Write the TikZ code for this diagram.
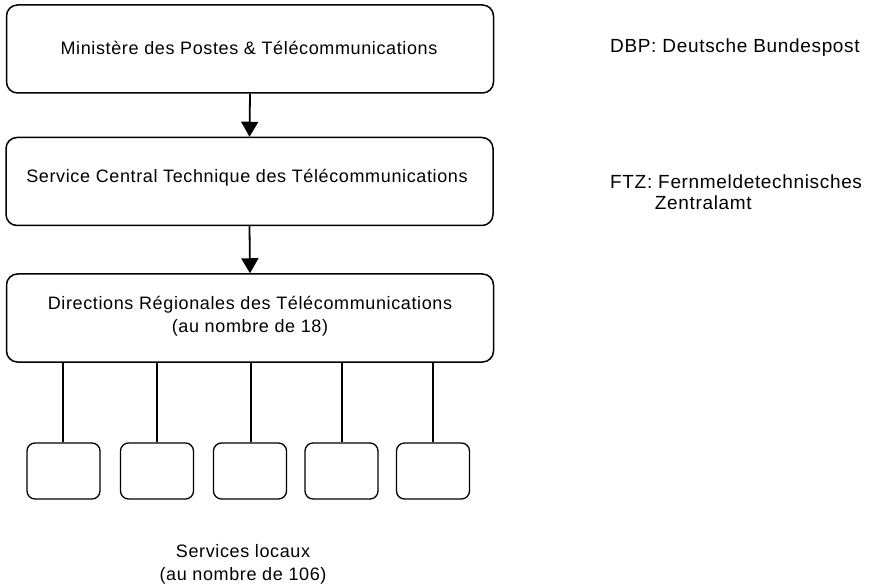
\documentclass[tikz,border=0pt]{standalone}
\usepackage{fontspec}
\setmainfont{Liberation Sans}[LetterSpace=3.5]
\usetikzlibrary{arrows.meta}
\begin{document}
\begin{tikzpicture}[x=1pt,y=-1pt,
  bigbox/.style={draw,line width=1.5pt,rounded corners=11pt,minimum width=487pt,minimum height=88pt,inner sep=0pt},
  smallbox/.style={draw,line width=1.3pt,rounded corners=8pt,minimum width=73pt,minimum height=56pt,inner sep=0pt},
  txt/.style={font=\fontsize{18}{23}\selectfont,inner sep=0pt},
  sidetxt/.style={font=\fontsize{19}{21}\selectfont,inner sep=0pt},
  conn/.style={line width=1.5pt},
  arr/.style={line width=1.8pt,-{Triangle[width=17pt,length=15pt]}}]
\useasboundingbox (0,0) rectangle (873,585);
\node[bigbox] (min) at (250,49) {};
\node[txt] (mint) at (249,48) {Ministère des Postes \& Télécommunications};
\node[bigbox] (sct) at (249.5,181.5) {};
\node[txt] (sctt) at (247,178) {Service Central Technique des Télécommunications};
\node[bigbox] (dr) at (250,318) {};
\node[txt,align=center] (drt) at (250,316) {Directions Régionales des Télécommunications\\(au nombre de 18)};
\draw[arr] (min.south) -- (sct.north);
\draw[arr] (sct.south) -- (dr.north);
\foreach \i/\bx/\lx in {1/63.5/63,2/157/157,3/250/251,4/341.5/342,5/433/433}{
  \node[smallbox] (s\i) at (\bx,471) {};
  \draw[conn] (dr.south -| \lx,0) -- (s\i.north -| \lx,0);
}
\node[txt,align=center] (sl) at (243,564) {Services locaux\\(au nombre de 106)};
\node[sidetxt,anchor=west] (dbp) at (610,48) {DBP: Deutsche Bundespost};
\node[sidetxt,anchor=north west,align=left] (ftz) at (610,175) {FTZ: Fernmeldetechnisches\\\hspace{2.35em}Zentralamt};
\end{tikzpicture}
\end{document}
